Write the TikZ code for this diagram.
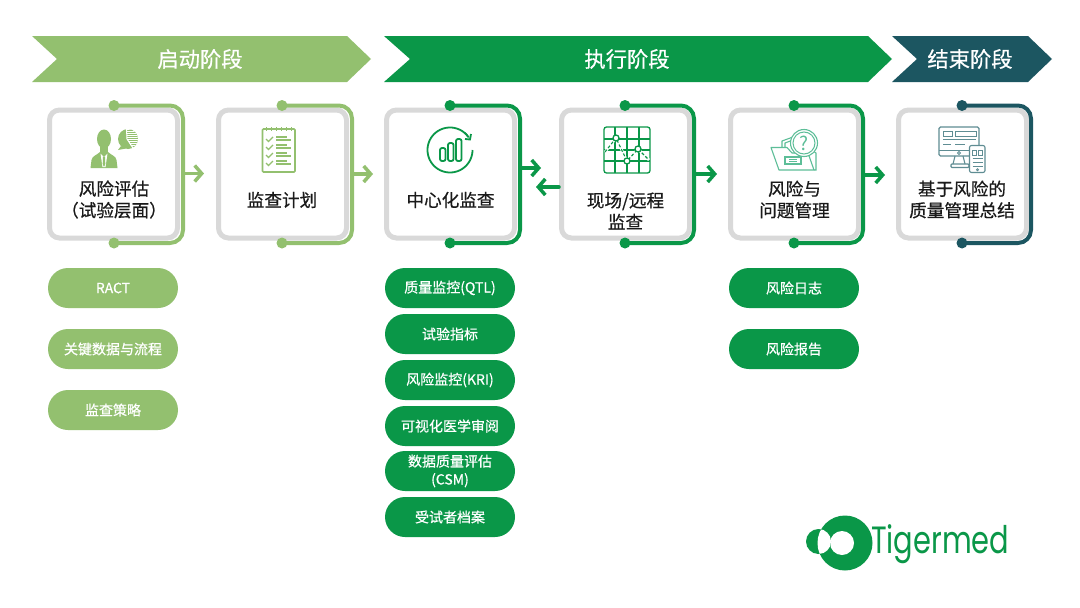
\documentclass[tikz,border=0pt]{standalone}
\usepackage{fontspec}
\setmainfont{Noto Sans CJK SC}
\newfontfamily\medfont[FakeBold=0.55]{Noto Sans CJK SC}
\newfontfamily\logofont[FakeStretch=0.76]{Poppins}
\usetikzlibrary{arrows.meta}
\definecolor{lgreen}{HTML}{93C06F}
\definecolor{dgreen}{HTML}{0A9748}
\definecolor{teal}{HTML}{1C5661}
\definecolor{mint}{HTML}{5DBE98}
\definecolor{tealg}{HTML}{5F8D93}
\definecolor{boxgray}{HTML}{D9D9D9}
\definecolor{inktext}{HTML}{1A1A1A}
\tikzset{
  x=1pt,y=-1pt,
  banner/.style={fill=#1,draw=none},
  bannertext/.style={text=white,font=\medfont\fontsize{21.3}{24}\selectfont,inner sep=0pt},
  stagebox/.style={draw=boxgray,line width=5pt,fill=white,rounded corners=10pt,minimum width=128pt,minimum height=128pt,outer sep=0pt,inner sep=0pt},
  stagetext/.style={text=inktext,font=\medfont\fontsize{17.6}{21.5}\selectfont,align=center,inner sep=0pt},
  pill/.style={fill=#1,rounded corners=20pt,minimum width=130pt,minimum height=40pt,outer sep=0pt,inner sep=0pt,text=white,align=center,font=\medfont\fontsize{14}{18}\selectfont},
  bracket/.style={draw=#1,line width=4pt,rounded corners=13pt},
  dotmark/.style={circle,fill=#1,minimum size=11pt,inner sep=0pt,outer sep=0pt},
  flow/.style={draw=#1,line width=3.5pt,line cap=round,-{Straight Barb[length=7pt,width=16pt,line width=3.5pt]}},
}
% name, centre x, colour, bracket x, dot x
\newcommand{\stagecard}[5]{
  \node[stagebox] (#1) at (#2,174) {};
  \node[dotmark=#3] (#1t) at (#5,105.5) {};
  \node[dotmark=#3] (#1b) at (#5,243) {};
  \coordinate (#1r) at (#4,174);
  \draw[bracket=#3] (#1t.center) -- (#4,105.5) -- (#4,243) -- (#1b.center);
}
\begin{document}
\begin{tikzpicture}
\useasboundingbox (0,0) rectangle (1080,608);
\fill[white] (0,0) rectangle (1080,608);
% banners
\fill[banner=lgreen] (32,36) -- (347,36) -- (371,59) -- (347,82) -- (32,82) -- (57,59) -- cycle;
\fill[banner=dgreen] (384,36) -- (868,36) -- (892,59) -- (868,82) -- (384,82) -- (410,59) -- cycle;
\fill[banner=teal] (892,36) -- (1028,36) -- (1052,59) -- (1028,82) -- (892,82) -- (917,59) -- cycle;
\node[bannertext] (h1) at (200,59) {启动阶段};
\node[bannertext] (h2) at (627,59) {执行阶段};
\node[bannertext] (h3) at (970,59) {结束阶段};
% cards
\stagecard{c1}{113.5}{lgreen}{183}{114}
\stagecard{c2}{282.5}{lgreen}{352}{282}
\stagecard{c3}{450.5}{dgreen}{520}{450}
\stagecard{c4}{625.5}{dgreen}{694}{625}
\stagecard{c5}{794.5}{dgreen}{863}{794}
\stagecard{c6}{962.5}{teal}{1031}{962}
% labels
\node[stagetext] (l1) at (114,199.5) {风险评估\\（试验层面）};
\node[stagetext] (l2) at (282,200) {监查计划};
\node[stagetext] (l3) at (450.5,200) {中心化监查};
\node[stagetext] (l4) at (625.5,211) {现场/远程\\监查};
\node[stagetext] (l5) at (794.5,199.5) {风险与\\问题管理};
\node[stagetext] (l6) at (962,199.5) {基于风险的\\质量管理总结};
% arrows
\coordinate (a1) at (204,173.5);
\coordinate (a2) at (373,174);
\coordinate (a3s) at (520,168);
\coordinate (a3) at (541,168);
\coordinate (a4s) at (559,187);
\coordinate (a4) at (536,187);
\coordinate (a5) at (717,174);
\coordinate (a6) at (885,175);
\draw[flow=lgreen] (c1r) ++(1,-0.5) -- (a1);
\draw[flow=lgreen] (c2r) ++(1,0) -- (a2);
\draw[flow=dgreen] (a3s) -- (a3);
\draw[flow=dgreen] (a4s) -- (a4);
\draw[flow=dgreen] (c4r) ++(1,0) -- (a5);
\draw[flow=dgreen] (c5r) ++(1,1) -- (a6);
% pills
\node[pill=lgreen] (p1) at (113,288) {RACT};
\node[pill=lgreen] (p2) at (113,349) {关键数据与流程};
\node[pill=lgreen] (p3) at (113,410) {监查策略};
\node[pill=dgreen] (q1) at (450,288) {质量监控(QTL)};
\node[pill=dgreen] (q2) at (450,334) {试验指标};
\node[pill=dgreen] (q3) at (450,380) {风险监控(KRI)};
\node[pill=dgreen] (q4) at (450,426) {可视化医学审阅};
\node[pill=dgreen] (q5) at (450,471) {数据质量评估\\(CSM)};
\node[pill=dgreen] (q6) at (450,517) {受试者档案};
\node[pill=dgreen] (r1) at (794,288) {风险日志};
\node[pill=dgreen] (r2) at (794,349) {风险报告};
% icon 1: person
\fill[lgreen] (104,139) ellipse [x radius=7pt,y radius=9.5pt];
\fill[lgreen] (100,146) rectangle (108,155);
\fill[lgreen] (90.5,168) -- (91.5,160) .. controls (92,156) and (97,155) .. (100,152) -- (108,152) .. controls (111,155) and (116,156) .. (116.5,160) -- (117.5,168) -- cycle;
\fill[white] (100.5,153.5) -- (104,157) -- (107.5,153.5) -- (105.5,167) -- (102.5,167) -- cycle;
\fill[lgreen] (103,156.5) -- (105,156.5) -- (105.3,164) -- (104,167) -- (102.7,164) -- cycle;
\fill[lgreen] (128,139) circle[radius=10pt];
\fill[lgreen] (121,146) -- (118,150) -- (126,148.5) -- cycle;
\begin{scope}
\clip (128,139) circle[radius=10pt];
\clip (127,139) -- (126,128) -- (139,128) -- (139,144) -- (133,149) -- cycle;
\foreach \yy in {129.5,131.5,...,148} {\draw[white,line width=1pt] (125,\yy) -- (139,\yy);}
\end{scope}
\draw[white,line width=1pt] (127,139) -- (126.5,129) (127,139) -- (133,148);
% icon 2: checklist
\draw[lgreen,line width=1.6pt,rounded corners=1pt] (262.5,129) rectangle (295,172);
\foreach \xx in {266,271,...,291} {\draw[lgreen,line width=1pt] (\xx,127) -- (\xx,131);}
\foreach \yy in {140,148,156,164} {
  \draw[lgreen,line width=1.2pt] (266,\yy-1) -- (268.5,\yy+1.5) -- (273,\yy-3);
  \draw[lgreen,line width=1.2pt] (276,\yy-3) -- (287,\yy-3);
  \draw[lgreen,line width=1.2pt] (276,\yy) -- (291,\yy);
}
% icon 3: central monitoring
\draw[dgreen,line width=1.8pt,domain=0:-322,samples=70,smooth] plot ({450+22.5*cos(\x-38)},{150+22.5*sin(\x-38)});
\draw[dgreen,line width=1.8pt,domain=-50:-34,samples=8,smooth] plot ({450+22.5*cos(\x)},{150+22.5*sin(\x)});
\draw[dgreen,line width=1.8pt] (465,139) -- (470,139.5) -- (471,134);
\foreach \xa/\ya in {440/148,448/143,456/139} {
  \draw[dgreen,line width=1.8pt,rounded corners=2pt] (\xa,\ya) rectangle (\xa+5.5,161);
}
% icon 4: grid
\draw[dgreen,line width=1.3pt,rounded corners=2.5pt] (604,127) rectangle (650,173);
\foreach \xx in {615,627,639} {\draw[dgreen,line width=1.1pt] (\xx,127) -- (\xx,173);}
\foreach \yy in {139,150,161} {\draw[dgreen,line width=1.1pt] (604,\yy) -- (650,\yy);}
\draw[white,line width=2.6pt] (605,152) -- (616,138) -- (627,161) -- (638,149) -- (649,160);
\draw[dgreen,line width=1.1pt,dash pattern=on 3pt off 2pt] (605,152) -- (616,138) -- (627,161) -- (638,149) -- (649,160);
\foreach \xx/\yy in {616/138,627/161,638/149} {\draw[dgreen,line width=1.3pt,fill=white] (\xx,\yy) circle[radius=3pt];}
% icon 5: folder and question
\draw[mint,line width=1.1pt,line join=round] (782,148) -- (782,141) -- (793,137) -- (795,145);
\draw[mint,line width=1.1pt,line join=round] (785,148) -- (785,143) -- (793,140);
\draw[mint,line width=1.1pt,line join=round,fill=white] (771,147.5) -- (787,147.5) -- (792,153) -- (808,153) -- (814,170) -- (779,170) -- cycle;
\draw[mint,line width=1.1pt] (814,170) -- (816,170) -- (816,153) -- (813,151);
\draw[mint,line width=1.1pt,fill=white] (785,157) rectangle (801,164);
\draw[mint,line width=1pt] (789,159.5) -- (797,159.5) (789,161.5) -- (797,161.5);
\draw[mint,line width=1.1pt,fill=white] (804,143) circle[radius=13.5pt];
\draw[mint,line width=1pt] (804,143) circle[radius=11pt];
\node[text=mint,inner sep=0pt,font=\fontsize{19}{19}\selectfont] (qm) at (804,143) {?};
% icon 6: devices
\draw[tealg,line width=1.1pt,rounded corners=1.5pt] (939,127) rectangle (979,156);
\draw[tealg,line width=1.1pt] (939,150.5) -- (979,150.5);
\draw[tealg,line width=1pt] (943,131) rectangle (952,136) (955,131) rectangle (976,136);
\draw[tealg,line width=1.1pt] (943,139.5) -- (976,139.5);
\draw[tealg,line width=1.4pt] (943,144.5) -- (951,144.5) (955,144.5) -- (965,144.5);
\draw[tealg,line width=0.9pt] (959,153) circle[radius=1.4pt];
\draw[tealg,line width=1.1pt] (955,156) -- (953,164) (963,156) -- (965,164);
\draw[tealg,line width=1.1pt,rounded corners=1pt] (951,164) rectangle (969,167.5);
\draw[tealg,line width=1.1pt,fill=white,rounded corners=2pt] (969.5,145.5) rectangle (985,172.5);
\draw[tealg,line width=0.9pt] (972.5,150) rectangle (976.5,155) (978.5,150) rectangle (982.5,155);
\draw[tealg,line width=1pt] (972.5,158.5) -- (982.5,158.5) (972.5,162.5) -- (982.5,162.5) (972.5,166.5) -- (982.5,166.5);
\draw[tealg,line width=0.8pt] (977.5,169.7) circle[radius=1.1pt];
% logo
\fill[dgreen] (845,543) circle[radius=27.5pt];
\fill[white] (842,543) circle[radius=12pt];
\fill[dgreen] (818.5,541.5) circle[radius=12.5pt];
\begin{scope}
\clip (845,543) circle[radius=27.5pt];
\fill[white] (818.5,541.5) circle[radius=12.5pt];
\end{scope}
\node[text=dgreen,inner sep=0pt,anchor=base west,font=\logofont\fontsize{38}{38}\selectfont] (logo) at (871,553.5) {Tigermed};
\end{tikzpicture}
\end{document}
